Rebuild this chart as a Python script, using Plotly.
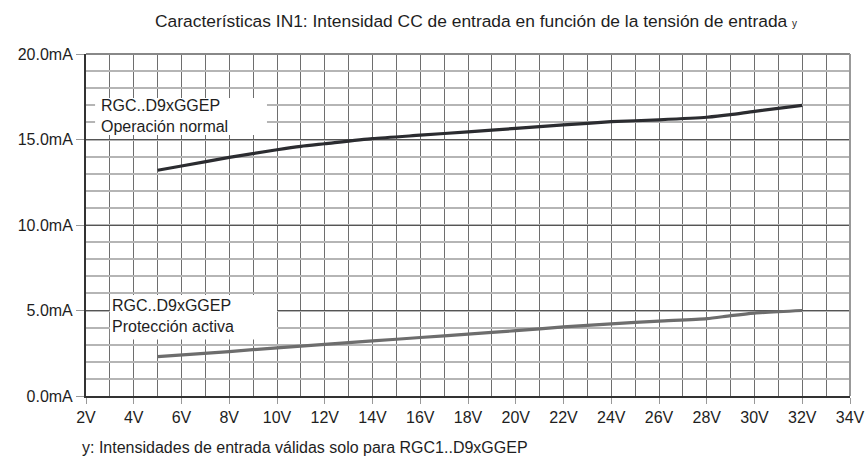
import plotly.graph_objects as go

# Data
v_normal = [5, 6, 8, 10, 11, 12, 14, 16, 18, 20, 22, 24, 26, 28, 29, 30, 32]
i_normal = [13.2, 13.45, 13.95, 14.4, 14.6, 14.75, 15.05, 15.25, 15.45, 15.65, 15.85, 16.04, 16.15, 16.3, 16.45, 16.65, 17.0]
v_prot = [5, 8, 10, 12, 14, 16, 18, 20, 22, 24, 26, 28, 29, 30, 32]
i_prot = [2.3, 2.6, 2.82, 3.02, 3.22, 3.42, 3.62, 3.82, 4.04, 4.22, 4.38, 4.52, 4.7, 4.85, 5.0]
x_ticks = list(range(2, 35, 2))
x_labels = [f"{v}V" for v in x_ticks]
y_ticks = [0, 5, 10, 15, 20]
y_labels = [f"{v:.1f}mA" for v in y_ticks]

FONT = "Liberation Sans"
TXT = "#1e1e1e"

fig = go.Figure()
fig.add_trace(go.Scatter(x=v_normal, y=i_normal, mode="lines",
                         line=dict(color="#2b2c30", width=3.2, shape="spline", smoothing=0.6), showlegend=False))
fig.add_trace(go.Scatter(x=v_prot, y=i_prot, mode="lines",
                         line=dict(color="#6d6d6d", width=3.2, shape="spline", smoothing=0.6), showlegend=False))

# white label boxes (between gridlines and traces)
fig.add_shape(type="rect", x0=2.38, x1=9.58, y0=15.26, y1=17.43, fillcolor="white", line_width=0, layer="between")
fig.add_shape(type="rect", x0=3.0, x1=10.0, y0=3.3, y1=5.9, fillcolor="white", line_width=0, layer="between")

fig.add_annotation(x=2.55, y=16.35, xref="x", yref="y", xanchor="left", yanchor="middle", align="left",
                   text="RGC..D9xGGEP<br>Operación normal", showarrow=False,
                   font=dict(family=FONT, size=16, color=TXT))
fig.add_annotation(x=3.02, y=4.68, xref="x", yref="y", xanchor="left", yanchor="middle", align="left",
                   text="RGC..D9xGGEP<br>Protección activa", showarrow=False,
                   font=dict(family=FONT, size=16, color=TXT))

# title and footnote
fig.add_annotation(x=0.5105, y=1.0, xref="paper", yref="paper", yshift=33, xanchor="center", yanchor="middle",
                   text="Características IN1: Intensidad CC de entrada en función de la tensión de entrada <span style='font-size:10px'>y</span>",
                   showarrow=False, font=dict(family=FONT, size=17.4, color=TXT))
fig.add_annotation(x=-0.0079, y=0.0, xref="paper", yref="paper", yshift=-51, xanchor="left", yanchor="middle",
                   text="y: Intensidades de entrada válidas solo para RGC1..D9xGGEP",
                   showarrow=False, font=dict(family=FONT, size=16, color=TXT))

# border lines top/right
fig.add_shape(type="line", xref="paper", yref="paper", x0=0, x1=1, y0=1, y1=1,
              line=dict(color="#888", width=2), layer="above")
fig.add_shape(type="line", xref="paper", yref="paper", x0=1, x1=1, y0=0, y1=1,
              line=dict(color="#999", width=2), layer="above")

fig.update_xaxes(range=[2, 34], tickvals=x_ticks, ticktext=x_labels, showgrid=False,
                 ticks="outside", ticklen=6, tickcolor="#999", tickwidth=1,
                 minor=dict(dtick=1, tick0=0, showgrid=True, gridcolor="#6e6e6e", gridwidth=1),
                 showline=True, linecolor="#333", linewidth=2, zeroline=False, automargin=False,
                 tickfont=dict(family=FONT, size=16, color=TXT))
fig.update_yaxes(range=[0, 20], tickvals=y_ticks, ticktext=y_labels, showgrid=True, gridcolor="#555", gridwidth=1,
                 ticks="outside", ticklen=8, tickcolor="#999", tickwidth=1,
                 minor=dict(dtick=1, tick0=0, showgrid=True, gridcolor="#b5b5b5", gridwidth=1.5),
                 showline=True, linecolor="#333", linewidth=2, zeroline=False, automargin=False,
                 tickfont=dict(family=FONT, size=16, color=TXT))

fig.update_layout(width=866, height=466, margin=dict(l=86, r=16, t=54, b=70),
                  plot_bgcolor="white", paper_bgcolor="white", showlegend=False)
fig.write_html("out.html", config={"displayModeBar": False},
               post_script="document.body.style.margin='0';document.body.style.overflow='hidden';")
